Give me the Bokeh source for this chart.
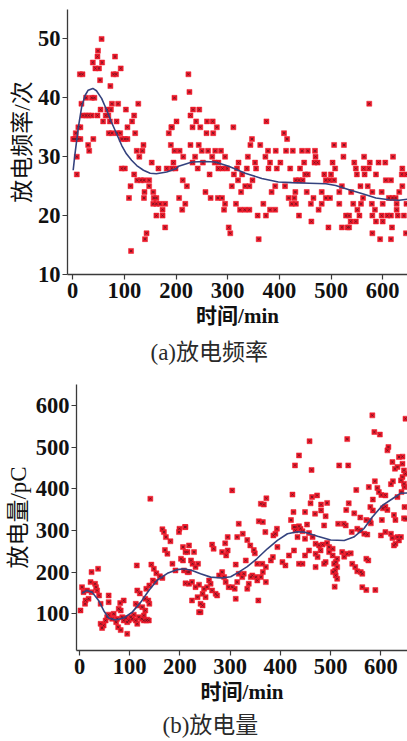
from bokeh.plotting import figure
from bokeh.models import Range1d, FixedTicker, Title
from bokeh.embed import file_html
from bokeh.resources import INLINE

# ---------------- data: (a) discharge frequency ----------------
freq_t = [56,49,82,48,39,57,44,51,93,14,19,79,84,53,73,17,26,37,42,76,88,127,54,67,74,103,
          20,26,31,37,48,64,69,119,59,72,85,115,15,11,106,6,70,76,86,92,121,4,10,15,40,95,101,106,
          30,137,32,124,135,8,129,8,95,101,153,119,125,132,138,148,112,148,139,156,157,162,109,138,
          156,162,169,179,174,162,174,179,143,140,113,186,201,192,166,182,192,199,1,6,
          191,197,190,197,195,207,214,213,221,218,212,206,
          224,226,233,245,228,239,260,271,375,232,247,279,311,259,272,347,228,244,344,363,
          250,262,276,287,378,393,237,270,295,339,373,321,353,382,402,232,252,275,282,
          242,282,290,299,318,337,355,379,395,312,328,265,320,348,308,334,342,392,411,
          257,326,385,267,281,289,418,295,316,369,424,293,324,333,342,382,392,358,374,
          302,305,360,409,415,413,421,
          574,506,525,426,444,455,469,470,524,564,620,448,468,474,503,545,575,592,605,
          440,508,548,563,573,638,450,455,487,500,550,565,587,637,646,432,438,445,490,497,
          506,606,616,521,557,571,638,431,453,482,516,539,580,598,632,429,466,490,498,562,
          612,619,625,432,461,482,516,543,558,579,600,627,646,476,551,585,627,438,529,535,
          555,580,598,609,616,629,641,462,538,548,587,600,495,521,532,535,618,580,645,595,616]
freq_n = [50,48,47,47,46,46,45,45,45,44,44,44,44,43,42,39,40,40,40,39,39,39,38,38,38,38,
          37,37,37,37,37,37,37,37,36,36,36,36,35,35,35,34,34,34,34,34,34,33,33,33,33,33,33,33,
          32,32,31,31,31,30,30,27,28,28,29,27,26,26,26,26,25,25,24,24,23,23,23,23,
          22,22,22,22,21,20,20,18,17,16,14,34,36,35,28,28,28,28,33,33,
          35,40,32,31,29,31,30,26,25,22,21,23,
          44,41,38,38,37,36,36,36,36,35,35,35,35,34,34,33,32,32,32,32,
          31,31,31,31,31,31,30,30,30,30,30,29,29,29,29,29,29,29,29,
          28,28,28,28,28,28,28,28,28,27,27,27,26,26,25,25,25,25,25,
          24,24,24,23,23,23,23,22,22,22,22,21,21,21,21,21,21,20,20,
          18,17,16,34,33,31,28,
          39,32,32,31,31,31,31,30,30,30,30,29,29,29,29,29,29,29,29,
          28,28,28,28,28,28,27,27,27,27,27,27,27,27,27,26,26,26,26,26,
          26,26,26,25,25,25,25,24,24,24,24,24,24,24,24,23,23,23,23,23,
          23,23,23,22,22,22,22,22,22,22,22,22,22,21,21,21,21,20,20,20,
          20,20,20,20,20,20,20,19,19,19,19,19,18,18,18,18,18,17,17,16,16]
freq_fit_t = [1,4.5,11,17.5,24,30,39,46,56,66,75,85,95,104,114,124,137,150,162,182,201,
              205,231,257,276,302,334,366,398,424,458,490,509,535,561,587,612,632,648]
freq_fit_n = [27.7,30.5,35,38.5,40.4,41.3,41.6,41.2,39.9,37.9,35.9,33.9,31.9,30.5,29.4,28.5,
              27.7,27.2,27.1,27.4,28.0,28.4,29.1,29.2,29.1,28.4,27.2,26.3,25.7,25.6,25.5,
              25.4,25.1,24.4,23.7,23.0,22.7,22.6,22.8]

# ---------------- data: (b) discharge magnitude ----------------
charge_t = [141,165,168,198,199,210,172,181,170,175,206,211,202,206,185,191,208,215,24,37,114,
            143,148,153,160,165,146,151,22,31,33,5,8,15,24,35,39,12,18,11,2,42,115,120,133,139,
            131,137,139,58,58,81,88,112,116,125,131,135,128,42,45,48,52,55,58,65,68,73,75,77,82,
            85,88,92,95,98,102,105,108,112,115,118,124,128,133,138,82,78,95,
            304,372,361,367,317,357,365,429,424,426,421,427,430,370,393,390,386,295,314,325,334,
            211,218,228,215,222,225,218,264,267,290,295,284,292,347,349,340,311,331,354,364,371,
            381,385,394,404,410,417,427,211,218,224,231,238,248,245,251,254,258,261,264,271,274,
            278,284,288,291,297,304,309,314,317,324,327,334,337,341,344,351,354,361,365,371,311,
            356,241,241,224,231,236,238,245,235,
            583,587,598,458,533,615,613,437,643,462,517,535,623,628,588,576,593,596,601,609,624,
            620,641,633,551,463,473,460,481,493,449,469,481,490,536,547,559,531,584,579,584,604,
            609,613,626,629,646,602,578,580,571,487,515,526,530,542,553,559,567,573,600,609,620,
            623,633,640,636,629,626,430,437,440,444,453,457,434,449,464,470,477,484,493,497,504,
            449,457,470,474,480,497,504,507,510,513,523,527,533,540,543,549,553,560,563,571,575,
            437,444,470,487,490,510,513,505,509,513,563,571,589,508,
            649,636,643,646,649,640,646,633,647,643,647,650]
charge_q = [376,303,296,296,304,308,284,274,253,244,260,248,232,228,220,204,204,200,200,208,216,
            218,208,197,190,186,180,176,176,172,164,164,152,156,152,156,144,132,136,124,108,124,
            156,149,160,168,136,132,124,144,128,126,132,124,120,116,108,86,96,76,66,72,84,92,98,
            88,100,80,88,68,61,92,84,90,80,84,92,88,98,84,76,92,88,84,84,84,108,112,52,
            396,377,364,362,316,322,320,456,386,344,325,308,300,296,304,292,288,284,284,292,277,
            308,264,248,248,228,220,200,266,256,269,252,248,240,253,245,264,218,228,220,220,212,
            228,236,260,224,216,240,252,173,172,176,164,170,160,148,140,164,180,172,156,148,144,
            192,200,188,176,164,164,160,176,196,188,196,160,172,188,192,188,180,188,200,176,136,
            132,124,104,132,212,220,104,120,140,
            576,536,530,514,519,500,492,480,477,445,456,456,464,448,418,404,402,392,385,384,418,
            411,392,380,397,380,384,365,362,366,344,340,348,334,365,341,331,349,374,356,348,353,
            357,349,337,325,329,325,323,317,325,312,316,316,312,296,304,300,292,290,288,296,292,
            282,284,284,276,268,264,308,310,304,298,314,294,284,280,284,268,264,266,270,260,256,
            240,252,244,236,252,248,240,220,224,232,248,237,244,245,220,212,202,200,196,232,228,
            220,220,212,220,224,192,184,200,204,212,164,157,157,165,
            568,476,460,444,436,420,412,452,404,428,356,328]
charge_fit_t = [5,14,25,38,48,58,72,88,105,122,138,155,175,195,208,224,241,261,284,301,317,
                334,353,374,394,414,434,447,474,500,527,546,566,583,603,623,639,653]
charge_fit_q = [149,156,152,132,108,90,85,90,104,128,156,181,197,206,208,204,196,188,186,189,
                200,213,232,256,276,292,297,296,286,277,276,284,304,332,360,376,389,390]

x_ticks = [0, 100, 200, 300, 400, 500, 600]
freq_ticks = [10, 20, 30, 40, 50]
charge_ticks = [100, 200, 300, 400, 500, 600]

LATIN_CJK = "'Liberation Serif', 'Noto Sans CJK SC'"
MARK_FILL = "#ec1b2b"
MARK_CENTER = "#6e1424"
FIT_COLOR = "#34427e"
AXIS_COLOR = "#3a3a3a"


def style(p, xlabel, ylabel, ylabel_standoff):
    p.xaxis.ticker = FixedTicker(ticks=x_ticks)
    for ax in (p.xaxis[0], p.yaxis[0]):
        ax.axis_line_color = AXIS_COLOR
        ax.axis_line_width = 1.3
        ax.major_tick_line_color = AXIS_COLOR
        ax.major_tick_line_width = 1.2
        ax.major_tick_in = 0
        ax.major_tick_out = 5
        ax.minor_tick_line_color = None
        ax.major_label_text_font = LATIN_CJK
        ax.major_label_text_font_size = "22.5px"
        ax.major_label_text_font_style = "bold"
        ax.major_label_text_color = "#111111"
        ax.axis_label_text_font = LATIN_CJK
        ax.axis_label_text_color = "#111111"
    p.xaxis.axis_label_text_font_size = "21px"
    p.yaxis.axis_label_text_font_size = "23px"
    p.xaxis.axis_label_text_font_style = "bold"
    p.yaxis.axis_label_text_font_style = "normal"
    p.xaxis.axis_label = xlabel
    p.yaxis.axis_label = ylabel
    p.xaxis.major_label_standoff = 3
    p.yaxis.major_label_standoff = 2
    p.xaxis.axis_label_standoff = 3
    p.yaxis.axis_label_standoff = ylabel_standoff
    p.xgrid.visible = False
    p.ygrid.visible = False
    p.outline_line_color = None
    p.background_fill_color = "white"
    p.border_fill_color = "white"


def marks(p, xs, ys):
    p.scatter(xs, ys, marker="square", size=5, fill_color=MARK_FILL,
              line_color=MARK_FILL, line_width=0.5)
    p.scatter(xs, ys, marker="x", size=3, line_color=MARK_CENTER, line_width=0.9)


def caption(p, text, offset, standoff):
    t = Title(text=text, align="left", offset=offset, text_font=LATIN_CJK,
              text_font_size="23px", text_font_style="normal", text_color="#2a2a2a",
              standoff=standoff)
    p.add_layout(t, "below")


# ---------------- figure (a) ----------------
p1 = figure(width=407, height=372, output_backend="svg", toolbar_location=None,
            x_range=Range1d(-10, 648), y_range=Range1d(10, 55),
            min_border_left=67, min_border_right=0, min_border_top=9, min_border_bottom=98)
style(p1, "时间/min", "放电频率/次", 0)
p1.yaxis.ticker = FixedTicker(ticks=freq_ticks)
marks(p1, freq_t, freq_n)
p1.line(freq_fit_t, freq_fit_n, line_color=FIT_COLOR, line_width=1.6)
caption(p1, "(a)放电频率", 83, 14)

# ---------------- figure (b) ----------------
p2 = figure(width=407, height=369, output_backend="svg", toolbar_location=None,
            x_range=Range1d(-6, 653), y_range=Range1d(12, 650),
            min_border_left=76, min_border_right=0, min_border_top=12, min_border_bottom=91)
style(p2, "时间/min", "放电量/pC", 2)
p2.yaxis.ticker = FixedTicker(ticks=charge_ticks)
marks(p2, charge_t, charge_q)
p2.line(charge_fit_t, charge_fit_q, line_color=FIT_COLOR, line_width=1.6)
caption(p2, "(b)放电量", 86, 8)

# two independent roots, stacked vertically on the page
open("out.html", "w").write(file_html([p1, p2], INLINE))
